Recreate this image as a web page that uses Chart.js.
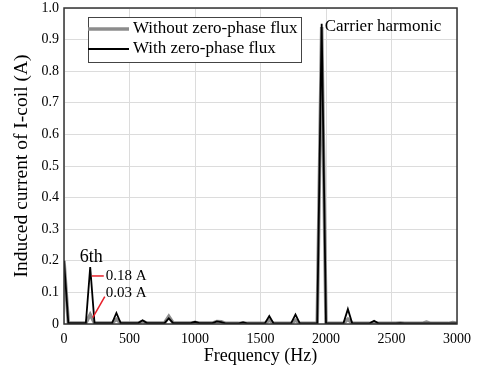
<!DOCTYPE html>
<html>
<head>
<meta charset="utf-8">
<script src="https://cdn.jsdelivr.net/npm/chart.js@4/dist/chart.umd.min.js"></script>
<style>
  html, body { margin: 0; padding: 0; background: #fff; }
  #wrap { width: 477px; height: 369px; }
</style>
</head>
<body>
<div id="wrap"><canvas id="chart" width="477" height="369"></canvas></div>
<script>
"use strict";

// harmonic spectrum, frequency in Hz (bins of ~33.3 Hz)
const freqHz = [0, 33, 167, 200, 233, 367, 400, 433, 567, 600, 633, 767, 800, 833,
  967, 1000, 1033, 1133, 1167, 1200, 1233, 1333, 1367, 1400, 1433, 1533, 1567, 1600,
  1733, 1767, 1800, 1933, 1967, 2000, 2133, 2167, 2200, 2333, 2367, 2400, 2533, 2567,
  2600, 2733, 2767, 2800, 2933, 2967, 3000];

const withoutZeroPhase = [0.20, 0.003, 0.003, 0.03, 0.003, 0.003, 0.015, 0.003, 0.003, 0.008, 0.003, 0.003, 0.024, 0.003,
  0.003, 0.005, 0.003, 0.003, 0.008, 0.007, 0.002, 0.002, 0.004, 0.002, 0.002, 0.002, 0.012, 0.002,
  0.002, 0.012, 0.002, 0.002, 0.94, 0.002, 0.002, 0.015, 0.002, 0.002, 0.005, 0.002, 0.002, 0.003,
  0.002, 0.002, 0.006, 0.002, 0.002, 0.005, 0.002];

const withZeroPhase = [0.20, 0.003, 0.003, 0.18, 0.003, 0.003, 0.035, 0.003, 0.003, 0.012, 0.003, 0.003, 0.018, 0.003,
  0.003, 0.007, 0.003, 0.003, 0.008, 0.006, 0.002, 0.002, 0.005, 0.002, 0.002, 0.002, 0.025, 0.002,
  0.002, 0.03, 0.002, 0.002, 0.95, 0.002, 0.002, 0.047, 0.002, 0.002, 0.01, 0.002, 0.002, 0.003,
  0.002, 0.002, 0.002, 0.002, 0.002, 0.002, 0.002];

const seriesNames = ['Without zero-phase flux', 'With zero-phase flux'];
const xTicks = [0, 500, 1000, 1500, 2000, 2500, 3000];
const yTicks = [0, 0.1, 0.2, 0.3, 0.4, 0.5, 0.6, 0.7, 0.8, 0.9, 1.0];

const SERIF = '"Liberation Serif", "Times New Roman", serif';

function toPoints(ys) {
  return freqHz.map(function(f, i) { return { x: f, y: ys[i] }; });
}

// legend with a box, drawn inside the plot area
const boxLegend = {
  id: 'boxLegend',
  afterDatasetsDraw(chart) {
    const ctx = chart.ctx;
    const a = chart.chartArea;
    const x0 = a.left + 24, y0 = a.top + 9, w = 213, h = 45;
    ctx.save();
    ctx.fillStyle = '#fff';
    ctx.fillRect(x0, y0, w, h);
    ctx.strokeStyle = '#444';
    ctx.lineWidth = 1;
    ctx.strokeRect(x0 + 0.5, y0 + 0.5, w, h);
    ctx.font = '17px ' + SERIF;
    ctx.textBaseline = 'middle';
    ctx.fillStyle = '#000';
    chart.data.datasets.forEach(function(ds, i) {
      const y = y0 + 12 + i * 20;
      ctx.strokeStyle = ds.borderColor;
      ctx.lineWidth = ds.borderWidth;
      ctx.beginPath();
      ctx.moveTo(x0, y);
      ctx.lineTo(x0 + 41, y);
      ctx.stroke();
      ctx.fillText(ds.label, x0 + 45, y);
    });
    ctx.restore();
  }
};

// text labels and red pointers, placed by data values
const notes = {
  id: 'notes',
  afterDatasetsDraw(chart) {
    const ctx = chart.ctx;
    const xs = chart.scales.x, ys = chart.scales.y;
    ctx.save();
    ctx.fillStyle = '#000';
    ctx.textBaseline = 'middle';

    ctx.font = '17px ' + SERIF;
    ctx.fillText('Carrier harmonic', xs.getPixelForValue(1967) + 3, ys.getPixelForValue(0.94));

    ctx.font = '18px ' + SERIF;
    ctx.fillText('6th', xs.getPixelForValue(120), ys.getPixelForValue(0.21));

    ctx.strokeStyle = '#e8202a';
    ctx.lineWidth = 1.5;
    const px = xs.getPixelForValue(212);
    const p18 = ys.getPixelForValue(0.152);
    ctx.beginPath();
    ctx.moveTo(px, p18);
    ctx.lineTo(px + 12, p18);
    ctx.stroke();
    const p03 = ys.getPixelForValue(0.02);
    ctx.beginPath();
    ctx.moveTo(px + 1, p03);
    ctx.lineTo(px + 13, p03 - 21);
    ctx.stroke();

    ctx.font = '15px ' + SERIF;
    ctx.fillText('0.18 A', px + 14, p18);
    ctx.fillText('0.03 A', px + 14, ys.getPixelForValue(0.098));
    ctx.restore();
  }
};

// plot frame
const frame = {
  id: 'frame',
  afterDatasetsDraw(chart) {
    const ctx = chart.ctx;
    const a = chart.chartArea;
    ctx.save();
    ctx.strokeStyle = '#333';
    ctx.lineWidth = 1.5;
    ctx.strokeRect(a.left, a.top, a.right - a.left, a.bottom - a.top);
    ctx.restore();
  }
};

new Chart(document.getElementById('chart'), {
  type: 'line',
  data: {
    datasets: [{
      label: seriesNames[0],
      data: toPoints(withoutZeroPhase),
      borderColor: '#8c8c8c',
      borderWidth: 3.5,
      pointRadius: 0,
      tension: 0,
      fill: false,
      order: 2
    }, {
      label: seriesNames[1],
      data: toPoints(withZeroPhase),
      borderColor: '#000',
      borderWidth: 1.8,
      pointRadius: 0,
      tension: 0,
      fill: false,
      order: 1
    }]
  },
  options: {
    responsive: false,
    animation: false,
    layout: { padding: { top: 8, right: 20, left: 0, bottom: 0 } },
    plugins: {
      legend: { display: false },
      tooltip: { enabled: false }
    },
    scales: {
      x: {
        type: 'linear',
        min: 0,
        max: 3000,
        afterBuildTicks: function(s) { s.ticks = xTicks.map(function(v) { return { value: v }; }); },
        grid: { color: '#dcdcdc', lineWidth: 1, drawTicks: false },
        border: { display: false },
        ticks: {
          color: '#000',
          font: { family: SERIF, size: 14 },
          padding: 7,
          maxRotation: 0,
          callback: function(v) { return String(v); }
        },
        title: {
          display: true,
          text: 'Frequency (Hz)',
          color: '#000',
          font: { family: SERIF, size: 18 },
          padding: { top: 4, bottom: 2 }
        },
        afterFit: function(s) { s.height = 45; s.paddingLeft = 0; s.paddingRight = 0; }
      },
      y: {
        min: 0,
        max: 1,
        afterBuildTicks: function(s) { s.ticks = yTicks.map(function(v) { return { value: v }; }); },
        grid: { color: '#dcdcdc', lineWidth: 1, drawTicks: false },
        border: { display: false },
        ticks: {
          color: '#000',
          font: { family: SERIF, size: 14 },
          padding: 5,
          callback: function(v) { return v === 0 ? '0' : v.toFixed(1); }
        },
        title: {
          display: true,
          text: 'Induced current of I-coil (A)',
          color: '#000',
          font: { family: SERIF, size: 19.5 },
          padding: { top: 10, bottom: 2 }
        },
        afterFit: function(s) { s.width = 64; s.paddingTop = 0; s.paddingBottom = 0; }
      }
    }
  },
  plugins: [frame, boxLegend, notes]
});
</script>
</body>
</html>
